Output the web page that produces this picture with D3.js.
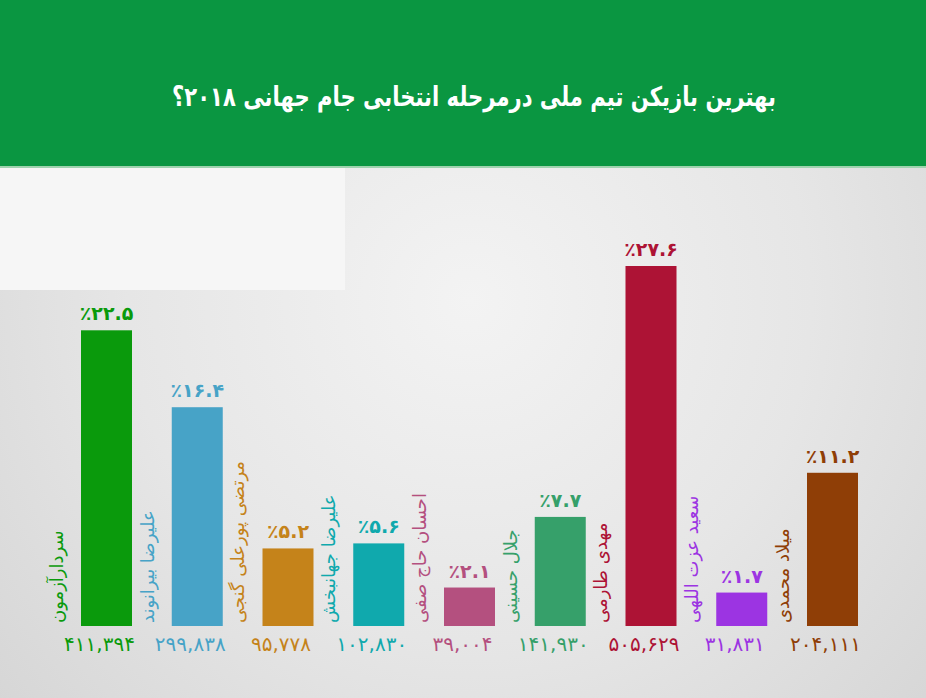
<!DOCTYPE html>
<html><head><meta charset="utf-8">
<script src="https://cdn.jsdelivr.net/npm/d3@7"></script>
<style>html,body{margin:0;padding:0;background:#e4e4e4;}svg{display:block;}</style>
</head><body>
<script>
const title = "بهترین بازیکن تیم ملی درمرحله انتخابی جام جهانی ۲۰۱۸؟";
const players = ["سردارآزمون","علیرضا بیرانوند","مرتضی پورعلی گنجی","علیرضا جهانبخش","احسان حاج صفی","جلال حسینی","مهدی طارمی","سعید عزت اللهی","میلاد محمدی"];
const percents = [22.5,16.4,5.2,5.6,2.1,7.7,27.6,1.7,11.2];
const votes = [411394,299838,95778,102830,39004,141930,505629,31831,204111];
const colors = ["#0a9a0c","#47a3c7","#c5831a","#10a9ad","#b4507f","#36a06a","#ad1335","#9c34e2","#8f3e06"];

const W = 926, H = 698;
const fa = s => String(s).replace(/[0-9]/g, d => "۰۱۲۳۴۵۶۷۸۹"[d]);
const svg = d3.select("body").append("svg").attr("width", W).attr("height", H);
const defs = svg.append("defs");
const rg = defs.append("radialGradient").attr("id","bg").attr("gradientUnits","userSpaceOnUse")
  .attr("cx",470).attr("cy",300).attr("r",620);
rg.append("stop").attr("offset","0").attr("stop-color","#f3f3f3");
rg.append("stop").attr("offset","0.55").attr("stop-color","#e6e6e6");
rg.append("stop").attr("offset","1").attr("stop-color","#d6d6d6");

svg.append("rect").attr("width",W).attr("height",H).attr("fill","url(#bg)");
svg.append("rect").attr("x",0).attr("y",168).attr("width",345).attr("height",122).attr("fill","#f6f6f6");
svg.append("rect").attr("width",W).attr("height",166).attr("fill","#0a9641");
svg.append("rect").attr("y",166).attr("width",W).attr("height",2).attr("fill","#9fd3ae");

svg.append("text").attr("x",474).attr("y",106).attr("text-anchor","middle")
  .attr("fill","#fff").attr("font-family","DejaVu Sans").attr("font-weight","bold")
  .attr("font-size",27).attr("direction","rtl")
  .attr("textLength",604).attr("lengthAdjust","spacingAndGlyphs").text(title);

const base = 626;
const x = d3.scaleBand().domain(players).range([81, 858]).paddingInner(0.438).paddingOuter(0);
const y = d3.scaleLinear().domain([0, d3.max(percents)]).range([base - 12, 266]);

const g = svg.append("g");
const items = players.map((p,i)=>({p, v:percents[i], n:votes[i], c:colors[i]}));

g.selectAll("rect.bar").data(items).join("rect").attr("class","bar")
  .attr("x", d=>x(d.p)).attr("width", x.bandwidth())
  .attr("y", d=>y(d.v)).attr("height", d=>base - y(d.v)).attr("fill", d=>d.c);

g.selectAll("text.pct").data(items).join("text").attr("class","pct")
  .attr("x", d=>x(d.p)+x.bandwidth()/2).attr("y", d=>y(d.v)-10)
  .attr("text-anchor","middle").attr("direction","ltr")
  .attr("font-family","DejaVu Sans").attr("font-weight","bold").attr("font-size",19)
  .attr("fill", d=>d.c).text(d=>"٪"+fa(d.v));

g.selectAll("text.votes").data(items).join("text").attr("class","votes")
  .attr("x", d=>x(d.p)+x.bandwidth()/2-7).attr("y", 651)
  .attr("text-anchor","middle").attr("direction","ltr")
  .attr("font-family","DejaVu Sans").attr("font-size",20)
  .attr("fill", d=>d.c).text(d=>fa(d3.format(",")(d.n)));

g.selectAll("text.name").data(items).join("text").attr("class","name")
  .attr("transform", d=>`translate(${x(d.p)-18},${base-3}) rotate(-90)`)
  .attr("text-anchor","start")
  .attr("font-family","DejaVu Sans").attr("font-size",18)
  .attr("fill", d=>d.c).text(d=>d.p);
</script>
</body></html>
